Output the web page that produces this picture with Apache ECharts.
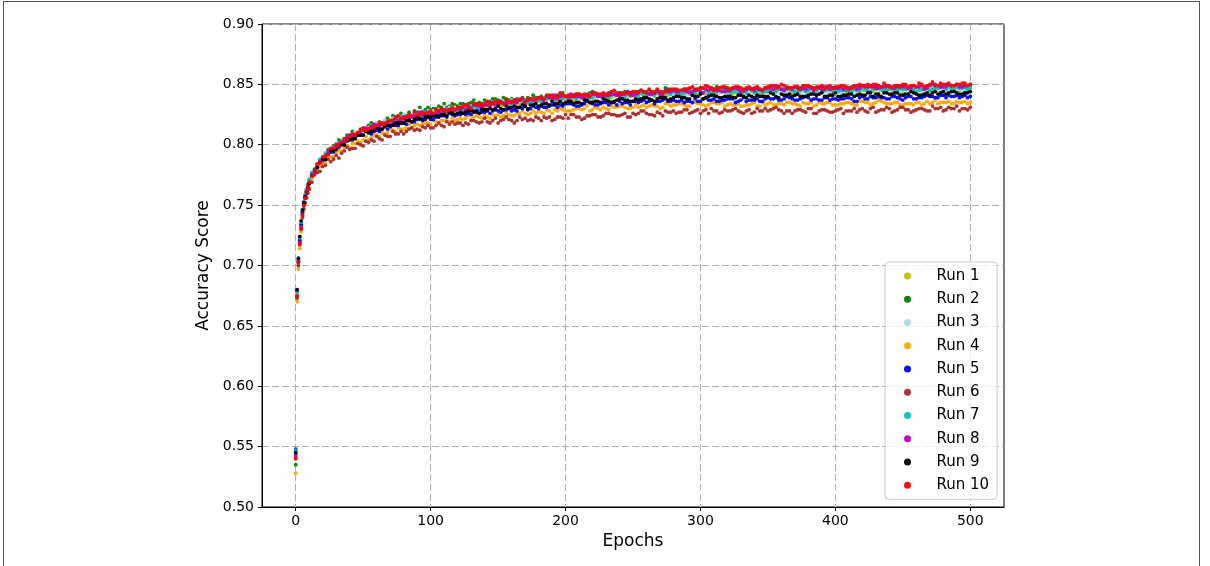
<!DOCTYPE html>
<html><head><meta charset="utf-8">
<script src="https://cdn.jsdelivr.net/npm/echarts@6/dist/echarts.min.js"></script>
<style>
html,body{margin:0;padding:0;background:#fff;width:1210px;height:566px;overflow:hidden}
#frame{position:absolute;left:3px;top:1px;width:1197px;height:620px;border:1.5px solid #555;box-sizing:border-box}
#chart{position:absolute;left:0;top:0;width:1210px;height:566px}
</style></head><body>
<div id="frame"></div><div id="chart"></div>
<script>
// epochs; the last block (202..498) fills the gaps of the 204..500 block
const epochs = [0,1,2,3,4,5,6,7,8,9,10,
12,14,16,18,20,22,24,26,28,30,32,34,36,38,40,42,44,46,48,50,52,54,56,58,60,62,64,66,68,70,72,74,76,78,80,82,84,86,88,90,92,94,96,98,100,
102,104,106,108,110,112,114,116,118,120,122,124,126,128,130,132,134,136,138,140,142,144,146,148,150,152,154,156,158,160,162,164,166,168,170,172,174,176,178,180,182,184,186,188,190,192,194,196,198,200,
204,208,212,216,220,224,228,232,236,240,244,248,252,256,260,264,268,272,276,280,284,288,292,296,300,304,308,312,316,320,324,328,332,336,340,344,348,352,356,360,364,368,372,376,380,384,388,392,396,400,404,408,412,416,420,424,428,432,436,440,444,448,452,456,460,464,468,472,476,480,484,488,492,496,500,
202,206,210,214,218,222,226,230,234,238,242,246,250,254,258,262,266,270,274,278,282,286,290,294,298,302,306,310,314,318,322,326,330,334,338,342,346,350,354,358,362,366,370,374,378,382,386,390,394,398,402,406,410,414,418,422,426,430,434,438,442,446,450,454,458,462,466,470,474,478,482,486,490,494,498];

const run1 = [0.544,0.677,0.703,0.720,0.733,0.743,0.751,0.757,0.761,0.765,0.769,
0.775,0.780,0.782,0.787,0.788,0.789,0.793,0.797,0.795,0.798,0.800,0.801,0.801,0.805,0.804,0.806,0.809,0.808,0.808,0.812,0.812,0.811,0.814,0.814,0.817,0.814,0.816,0.817,0.818,0.817,0.819,0.820,0.819,0.822,0.821,0.821,0.821,0.823,0.823,0.822,0.825,0.824,0.826,0.824,0.825,
0.825,0.827,0.825,0.826,0.829,0.827,0.826,0.829,0.827,0.828,0.829,0.829,0.828,0.830,0.829,0.828,0.831,0.830,0.831,0.830,0.832,0.833,0.833,0.832,0.835,0.832,0.833,0.835,0.833,0.834,0.835,0.834,0.834,0.836,0.835,0.834,0.837,0.836,0.835,0.836,0.837,0.835,0.837,0.838,0.838,0.836,0.837,0.836,0.839,0.838,
0.837,0.838,0.839,0.839,0.838,0.840,0.839,0.838,0.840,0.842,0.841,0.840,0.839,0.842,0.840,0.841,0.843,0.841,0.841,0.843,0.842,0.841,0.842,0.845,0.844,0.842,0.843,0.842,0.844,0.843,0.842,0.845,0.843,0.844,0.843,0.842,0.844,0.843,0.844,0.845,0.844,0.843,0.845,0.844,0.842,0.845,0.844,0.845,0.843,0.844,0.845,0.844,0.843,0.846,0.845,0.846,0.844,0.845,0.845,0.846,0.844,0.845,0.847,0.844,0.846,0.845,0.844,0.846,0.847,0.845,0.847,0.846,0.845,0.846,0.847,
0.838,0.836,0.839,0.838,0.839,0.838,0.840,0.839,0.839,0.841,0.839,0.840,0.841,0.839,0.841,0.842,0.840,0.840,0.842,0.843,0.842,0.841,0.843,0.843,0.841,0.843,0.844,0.842,0.843,0.844,0.841,0.844,0.842,0.843,0.844,0.843,0.842,0.845,0.843,0.844,0.844,0.843,0.846,0.844,0.845,0.843,0.843,0.844,0.845,0.844,0.845,0.842,0.844,0.845,0.844,0.845,0.844,0.846,0.845,0.844,0.845,0.846,0.843,0.845,0.844,0.846,0.845,0.845,0.847,0.846,0.846,0.845,0.846,0.847,0.845];

const run2 = [0.535,0.674,0.702,0.719,0.734,0.744,0.752,0.758,0.763,0.767,0.771,
0.776,0.778,0.783,0.787,0.788,0.791,0.796,0.795,0.799,0.801,0.804,0.803,0.805,0.808,0.807,0.811,0.810,0.810,0.813,0.813,0.813,0.816,0.818,0.816,0.818,0.819,0.818,0.820,0.822,0.820,0.824,0.823,0.823,0.826,0.825,0.824,0.827,0.824,0.828,0.827,0.831,0.828,0.829,0.831,0.829,
0.830,0.830,0.832,0.831,0.834,0.831,0.832,0.834,0.833,0.832,0.834,0.834,0.833,0.834,0.835,0.837,0.834,0.835,0.834,0.837,0.835,0.836,0.838,0.838,0.837,0.836,0.839,0.838,0.837,0.838,0.837,0.838,0.837,0.838,0.837,0.839,0.838,0.841,0.839,0.838,0.840,0.838,0.840,0.841,0.840,0.839,0.841,0.841,0.843,0.840,
0.841,0.842,0.840,0.842,0.844,0.841,0.842,0.843,0.842,0.843,0.844,0.843,0.842,0.845,0.844,0.842,0.845,0.844,0.846,0.844,0.845,0.846,0.845,0.845,0.847,0.846,0.845,0.848,0.846,0.845,0.846,0.844,0.845,0.845,0.846,0.844,0.847,0.846,0.845,0.846,0.845,0.847,0.846,0.848,0.845,0.846,0.847,0.845,0.846,0.847,0.846,0.845,0.848,0.846,0.846,0.848,0.847,0.846,0.848,0.847,0.848,0.847,0.846,0.848,0.847,0.845,0.848,0.848,0.849,0.847,0.848,0.849,0.848,0.847,0.849,
0.840,0.841,0.842,0.841,0.843,0.842,0.840,0.842,0.844,0.842,0.843,0.844,0.842,0.844,0.843,0.845,0.844,0.843,0.847,0.845,0.844,0.845,0.846,0.846,0.844,0.847,0.845,0.846,0.847,0.846,0.846,0.844,0.845,0.844,0.846,0.845,0.845,0.844,0.847,0.845,0.846,0.847,0.845,0.847,0.846,0.845,0.845,0.847,0.846,0.844,0.847,0.846,0.845,0.846,0.848,0.846,0.849,0.847,0.846,0.847,0.846,0.848,0.847,0.845,0.847,0.848,0.846,0.848,0.849,0.847,0.848,0.847,0.849,0.848,0.847];

const run3 = [0.546,0.678,0.704,0.722,0.735,0.745,0.752,0.758,0.762,0.766,0.770,
0.774,0.780,0.783,0.786,0.790,0.790,0.795,0.796,0.796,0.801,0.800,0.801,0.804,0.805,0.807,0.807,0.811,0.810,0.810,0.813,0.813,0.814,0.813,0.815,0.818,0.815,0.818,0.820,0.819,0.819,0.822,0.821,0.821,0.823,0.825,0.823,0.823,0.824,0.826,0.824,0.826,0.828,0.826,0.826,0.828,
0.828,0.827,0.829,0.828,0.828,0.829,0.831,0.830,0.831,0.829,0.829,0.831,0.832,0.831,0.832,0.830,0.832,0.833,0.831,0.833,0.833,0.832,0.835,0.833,0.834,0.834,0.835,0.834,0.835,0.837,0.836,0.834,0.836,0.837,0.836,0.835,0.838,0.837,0.836,0.838,0.836,0.837,0.840,0.838,0.837,0.839,0.838,0.840,0.838,0.839,
0.839,0.841,0.838,0.841,0.840,0.841,0.839,0.840,0.842,0.840,0.842,0.841,0.840,0.844,0.842,0.841,0.843,0.843,0.843,0.842,0.843,0.844,0.842,0.844,0.846,0.844,0.843,0.845,0.844,0.843,0.846,0.843,0.845,0.844,0.843,0.844,0.845,0.844,0.846,0.845,0.844,0.845,0.842,0.844,0.843,0.845,0.845,0.844,0.843,0.844,0.843,0.846,0.844,0.843,0.846,0.845,0.846,0.844,0.845,0.846,0.845,0.844,0.847,0.845,0.846,0.844,0.845,0.847,0.845,0.846,0.846,0.847,0.846,0.845,0.847,
0.839,0.840,0.838,0.840,0.841,0.838,0.840,0.841,0.840,0.841,0.842,0.840,0.841,0.841,0.844,0.842,0.841,0.843,0.843,0.842,0.844,0.843,0.841,0.845,0.844,0.843,0.845,0.844,0.843,0.844,0.844,0.845,0.844,0.842,0.845,0.843,0.844,0.845,0.846,0.844,0.843,0.844,0.845,0.843,0.844,0.845,0.842,0.844,0.843,0.845,0.844,0.843,0.845,0.844,0.844,0.846,0.845,0.843,0.846,0.845,0.846,0.844,0.845,0.844,0.847,0.845,0.844,0.847,0.846,0.845,0.845,0.847,0.846,0.845,0.846];

const run4 = [0.528,0.670,0.697,0.714,0.728,0.739,0.746,0.752,0.757,0.760,0.764,
0.772,0.777,0.779,0.782,0.785,0.785,0.791,0.790,0.790,0.793,0.795,0.795,0.798,0.799,0.798,0.801,0.801,0.803,0.802,0.804,0.807,0.804,0.806,0.808,0.808,0.807,0.810,0.809,0.810,0.813,0.812,0.811,0.814,0.813,0.813,0.814,0.817,0.814,0.816,0.817,0.816,0.817,0.818,0.818,0.817,
0.820,0.819,0.818,0.820,0.820,0.820,0.819,0.822,0.820,0.821,0.822,0.821,0.822,0.824,0.821,0.823,0.824,0.823,0.822,0.825,0.823,0.822,0.825,0.824,0.825,0.823,0.824,0.827,0.825,0.824,0.824,0.826,0.826,0.828,0.826,0.825,0.826,0.828,0.826,0.828,0.827,0.826,0.829,0.828,0.826,0.829,0.828,0.830,0.829,0.828,
0.828,0.830,0.829,0.832,0.829,0.830,0.831,0.829,0.831,0.832,0.831,0.830,0.833,0.832,0.831,0.833,0.832,0.831,0.834,0.833,0.834,0.833,0.832,0.835,0.834,0.832,0.835,0.834,0.835,0.833,0.833,0.834,0.832,0.833,0.835,0.832,0.833,0.835,0.833,0.834,0.835,0.834,0.833,0.835,0.834,0.832,0.835,0.834,0.835,0.833,0.834,0.835,0.834,0.833,0.836,0.835,0.834,0.837,0.835,0.834,0.835,0.833,0.834,0.834,0.835,0.833,0.836,0.835,0.834,0.835,0.836,0.834,0.835,0.836,0.835,
0.828,0.829,0.830,0.830,0.828,0.831,0.829,0.830,0.832,0.831,0.832,0.830,0.831,0.831,0.833,0.832,0.832,0.830,0.834,0.832,0.833,0.834,0.832,0.835,0.834,0.833,0.833,0.835,0.834,0.832,0.834,0.833,0.832,0.833,0.834,0.832,0.835,0.834,0.833,0.834,0.833,0.835,0.834,0.832,0.834,0.835,0.833,0.834,0.835,0.833,0.833,0.834,0.835,0.833,0.836,0.835,0.833,0.835,0.836,0.834,0.834,0.835,0.833,0.834,0.833,0.835,0.834,0.834,0.837,0.835,0.835,0.834,0.836,0.835,0.834];

const run5 = [0.548,0.679,0.704,0.721,0.734,0.744,0.751,0.756,0.761,0.764,0.768,
0.775,0.777,0.782,0.786,0.787,0.788,0.793,0.794,0.794,0.798,0.798,0.802,0.800,0.803,0.805,0.804,0.806,0.808,0.808,0.808,0.811,0.810,0.809,0.813,0.812,0.811,0.813,0.815,0.813,0.815,0.817,0.816,0.816,0.818,0.818,0.817,0.821,0.819,0.819,0.821,0.821,0.820,0.821,0.823,0.821,
0.821,0.823,0.824,0.824,0.824,0.823,0.826,0.825,0.824,0.825,0.825,0.827,0.825,0.826,0.825,0.828,0.827,0.829,0.827,0.827,0.828,0.826,0.828,0.829,0.828,0.827,0.829,0.829,0.831,0.828,0.829,0.828,0.831,0.830,0.832,0.829,0.830,0.832,0.831,0.830,0.832,0.831,0.831,0.832,0.833,0.834,0.831,0.833,0.832,0.834,
0.834,0.832,0.833,0.836,0.834,0.833,0.835,0.833,0.835,0.836,0.835,0.833,0.836,0.836,0.835,0.837,0.836,0.837,0.836,0.837,0.836,0.835,0.836,0.838,0.836,0.839,0.837,0.836,0.837,0.838,0.838,0.836,0.839,0.837,0.837,0.836,0.838,0.838,0.839,0.837,0.840,0.838,0.837,0.839,0.839,0.838,0.837,0.839,0.837,0.838,0.838,0.839,0.838,0.836,0.840,0.838,0.839,0.840,0.839,0.838,0.840,0.838,0.839,0.840,0.838,0.839,0.841,0.840,0.839,0.841,0.841,0.840,0.839,0.841,0.840,
0.834,0.833,0.832,0.834,0.835,0.833,0.834,0.835,0.835,0.833,0.834,0.835,0.836,0.835,0.837,0.836,0.834,0.836,0.838,0.836,0.836,0.837,0.836,0.835,0.836,0.838,0.837,0.838,0.836,0.837,0.838,0.835,0.837,0.836,0.837,0.838,0.836,0.839,0.838,0.837,0.838,0.839,0.837,0.838,0.840,0.837,0.838,0.837,0.839,0.838,0.837,0.838,0.839,0.836,0.839,0.838,0.840,0.839,0.839,0.838,0.840,0.839,0.837,0.840,0.838,0.839,0.840,0.840,0.839,0.841,0.839,0.840,0.841,0.840,0.839];

const run6 = [0.541,0.673,0.700,0.717,0.730,0.740,0.747,0.752,0.756,0.760,0.763,
0.769,0.775,0.777,0.778,0.782,0.783,0.788,0.786,0.788,0.791,0.789,0.793,0.795,0.798,0.796,0.797,0.797,0.801,0.800,0.799,0.803,0.802,0.804,0.803,0.807,0.805,0.804,0.808,0.807,0.807,0.811,0.809,0.809,0.811,0.809,0.811,0.813,0.814,0.812,0.813,0.812,0.815,0.814,0.816,0.814,
0.814,0.816,0.818,0.816,0.815,0.819,0.817,0.819,0.817,0.818,0.818,0.816,0.818,0.817,0.820,0.820,0.819,0.818,0.819,0.822,0.819,0.818,0.820,0.822,0.818,0.820,0.821,0.823,0.821,0.820,0.818,0.820,0.823,0.821,0.822,0.820,0.821,0.820,0.823,0.822,0.820,0.823,0.822,0.823,0.820,0.821,0.823,0.823,0.822,0.825,
0.825,0.823,0.821,0.824,0.825,0.823,0.824,0.826,0.825,0.824,0.826,0.823,0.825,0.828,0.826,0.825,0.827,0.824,0.827,0.828,0.827,0.829,0.826,0.828,0.826,0.829,0.830,0.828,0.827,0.828,0.829,0.828,0.826,0.829,0.827,0.828,0.830,0.829,0.831,0.828,0.828,0.826,0.829,0.828,0.830,0.826,0.828,0.829,0.827,0.828,0.830,0.828,0.828,0.827,0.830,0.827,0.831,0.828,0.829,0.830,0.828,0.831,0.829,0.827,0.829,0.830,0.828,0.832,0.830,0.828,0.831,0.830,0.828,0.830,0.831,
0.822,0.825,0.823,0.822,0.824,0.825,0.823,0.826,0.825,0.824,0.825,0.823,0.826,0.826,0.828,0.825,0.824,0.826,0.828,0.827,0.826,0.827,0.829,0.827,0.829,0.828,0.826,0.828,0.826,0.829,0.828,0.830,0.827,0.828,0.826,0.830,0.828,0.828,0.830,0.829,0.826,0.828,0.828,0.829,0.827,0.830,0.826,0.829,0.828,0.827,0.829,0.826,0.828,0.830,0.829,0.828,0.830,0.827,0.829,0.831,0.827,0.829,0.831,0.829,0.828,0.830,0.829,0.828,0.830,0.831,0.829,0.830,0.832,0.830,0.829];

const run7 = [0.547,0.678,0.705,0.723,0.736,0.746,0.753,0.759,0.763,0.767,0.771,
0.777,0.780,0.783,0.788,0.789,0.793,0.793,0.796,0.798,0.798,0.800,0.803,0.803,0.804,0.808,0.807,0.809,0.808,0.810,0.813,0.812,0.813,0.816,0.815,0.815,0.817,0.817,0.817,0.819,0.819,0.821,0.819,0.821,0.823,0.821,0.822,0.824,0.823,0.823,0.825,0.825,0.824,0.827,0.826,0.825,
0.825,0.827,0.828,0.827,0.827,0.830,0.828,0.830,0.828,0.829,0.830,0.829,0.830,0.829,0.832,0.832,0.831,0.830,0.831,0.833,0.833,0.832,0.834,0.836,0.833,0.834,0.835,0.836,0.835,0.834,0.834,0.835,0.838,0.836,0.837,0.835,0.836,0.836,0.838,0.837,0.836,0.839,0.838,0.839,0.838,0.837,0.839,0.839,0.838,0.840,
0.839,0.838,0.840,0.840,0.839,0.842,0.840,0.839,0.842,0.841,0.840,0.842,0.841,0.843,0.840,0.842,0.843,0.841,0.843,0.844,0.842,0.843,0.845,0.843,0.844,0.845,0.843,0.844,0.845,0.844,0.844,0.843,0.844,0.846,0.843,0.845,0.844,0.845,0.844,0.846,0.846,0.845,0.844,0.846,0.845,0.844,0.847,0.845,0.846,0.844,0.845,0.846,0.844,0.845,0.847,0.845,0.846,0.848,0.845,0.846,0.845,0.847,0.846,0.847,0.844,0.846,0.847,0.846,0.847,0.848,0.848,0.846,0.847,0.848,0.847,
0.837,0.839,0.840,0.840,0.839,0.841,0.840,0.839,0.841,0.842,0.840,0.842,0.841,0.840,0.842,0.843,0.841,0.843,0.843,0.842,0.843,0.842,0.844,0.844,0.845,0.843,0.842,0.844,0.845,0.844,0.843,0.844,0.845,0.843,0.845,0.844,0.843,0.845,0.843,0.846,0.845,0.846,0.844,0.845,0.844,0.847,0.845,0.844,0.846,0.845,0.844,0.845,0.845,0.846,0.845,0.846,0.844,0.847,0.846,0.845,0.847,0.845,0.846,0.847,0.846,0.845,0.847,0.845,0.847,0.848,0.846,0.847,0.848,0.847,0.846];

const run8 = [0.543,0.680,0.703,0.719,0.732,0.742,0.750,0.756,0.760,0.764,0.768,
0.775,0.778,0.784,0.786,0.787,0.791,0.795,0.796,0.796,0.799,0.801,0.801,0.803,0.806,0.808,0.806,0.808,0.810,0.809,0.812,0.814,0.813,0.813,0.817,0.816,0.815,0.818,0.818,0.817,0.820,0.820,0.822,0.820,0.821,0.823,0.821,0.823,0.824,0.824,0.823,0.827,0.825,0.824,0.827,0.826,
0.826,0.826,0.827,0.829,0.827,0.828,0.829,0.828,0.829,0.830,0.830,0.832,0.829,0.831,0.830,0.833,0.833,0.832,0.831,0.834,0.833,0.832,0.835,0.833,0.834,0.836,0.834,0.834,0.836,0.835,0.835,0.837,0.837,0.838,0.835,0.837,0.838,0.837,0.838,0.839,0.838,0.837,0.840,0.839,0.838,0.841,0.838,0.840,0.841,0.840,
0.842,0.840,0.839,0.841,0.842,0.840,0.841,0.842,0.842,0.841,0.843,0.841,0.842,0.845,0.843,0.842,0.844,0.842,0.844,0.845,0.844,0.845,0.843,0.845,0.844,0.846,0.847,0.845,0.844,0.845,0.847,0.846,0.845,0.847,0.845,0.846,0.847,0.847,0.849,0.846,0.847,0.846,0.848,0.847,0.848,0.845,0.847,0.848,0.846,0.847,0.848,0.847,0.847,0.846,0.849,0.848,0.850,0.847,0.848,0.849,0.847,0.849,0.848,0.847,0.848,0.849,0.847,0.851,0.849,0.848,0.850,0.849,0.848,0.849,0.850,
0.839,0.841,0.840,0.839,0.841,0.842,0.840,0.842,0.842,0.841,0.842,0.844,0.841,0.843,0.844,0.842,0.843,0.842,0.845,0.844,0.844,0.845,0.844,0.844,0.846,0.843,0.845,0.846,0.845,0.844,0.845,0.847,0.844,0.846,0.846,0.847,0.845,0.847,0.846,0.848,0.845,0.847,0.848,0.846,0.846,0.847,0.848,0.846,0.848,0.847,0.847,0.846,0.847,0.849,0.847,0.849,0.848,0.847,0.848,0.849,0.847,0.849,0.848,0.847,0.849,0.848,0.846,0.849,0.850,0.848,0.848,0.849,0.850,0.848,0.849];

const run9 = [0.545,0.680,0.706,0.724,0.737,0.746,0.752,0.757,0.761,0.765,0.768,
0.774,0.779,0.781,0.785,0.788,0.788,0.792,0.795,0.795,0.796,0.799,0.800,0.800,0.804,0.804,0.805,0.805,0.808,0.808,0.808,0.811,0.810,0.811,0.811,0.814,0.813,0.813,0.815,0.816,0.816,0.816,0.818,0.818,0.818,0.818,0.820,0.820,0.819,0.821,0.822,0.822,0.821,0.823,0.823,0.823,
0.824,0.824,0.823,0.825,0.825,0.824,0.827,0.826,0.825,0.826,0.827,0.826,0.827,0.828,0.828,0.827,0.828,0.826,0.829,0.829,0.829,0.830,0.829,0.830,0.832,0.830,0.829,0.832,0.830,0.831,0.832,0.831,0.831,0.833,0.832,0.830,0.833,0.833,0.834,0.832,0.833,0.834,0.834,0.833,0.836,0.833,0.834,0.836,0.834,0.835,
0.836,0.835,0.834,0.837,0.835,0.836,0.838,0.836,0.836,0.838,0.837,0.836,0.838,0.838,0.839,0.837,0.838,0.839,0.837,0.839,0.840,0.839,0.838,0.840,0.842,0.839,0.841,0.840,0.839,0.840,0.839,0.841,0.840,0.841,0.839,0.840,0.840,0.843,0.840,0.842,0.841,0.840,0.842,0.840,0.841,0.842,0.842,0.840,0.841,0.843,0.840,0.841,0.842,0.841,0.841,0.843,0.840,0.842,0.843,0.842,0.843,0.841,0.842,0.844,0.842,0.841,0.843,0.843,0.842,0.844,0.843,0.844,0.842,0.843,0.844,
0.836,0.834,0.835,0.837,0.835,0.836,0.835,0.837,0.835,0.837,0.838,0.837,0.836,0.837,0.839,0.838,0.836,0.839,0.839,0.838,0.840,0.839,0.838,0.841,0.840,0.838,0.840,0.841,0.839,0.840,0.840,0.839,0.841,0.839,0.840,0.841,0.840,0.840,0.842,0.839,0.841,0.842,0.841,0.840,0.840,0.842,0.841,0.843,0.840,0.841,0.840,0.841,0.842,0.840,0.842,0.841,0.843,0.842,0.840,0.843,0.842,0.843,0.841,0.842,0.843,0.841,0.842,0.841,0.844,0.843,0.842,0.844,0.843,0.842,0.843];

const run10 = [0.540,0.675,0.703,0.718,0.731,0.742,0.750,0.756,0.761,0.765,0.769,
0.774,0.779,0.784,0.785,0.790,0.790,0.792,0.797,0.797,0.800,0.799,0.802,0.805,0.804,0.807,0.809,0.808,0.810,0.812,0.814,0.812,0.813,0.815,0.814,0.816,0.818,0.817,0.817,0.819,0.820,0.820,0.822,0.824,0.822,0.822,0.823,0.825,0.823,0.827,0.825,0.825,0.827,0.826,0.826,0.828,
0.826,0.829,0.828,0.830,0.829,0.828,0.829,0.831,0.829,0.831,0.831,0.831,0.833,0.832,0.830,0.834,0.833,0.834,0.833,0.833,0.836,0.834,0.834,0.836,0.835,0.835,0.834,0.837,0.835,0.836,0.837,0.835,0.837,0.839,0.836,0.837,0.838,0.838,0.837,0.839,0.839,0.838,0.841,0.840,0.841,0.839,0.840,0.843,0.841,0.840,
0.840,0.842,0.841,0.841,0.843,0.842,0.843,0.841,0.845,0.843,0.842,0.843,0.844,0.845,0.843,0.844,0.846,0.843,0.845,0.846,0.845,0.846,0.847,0.846,0.847,0.849,0.847,0.846,0.848,0.847,0.847,0.848,0.846,0.848,0.847,0.846,0.847,0.849,0.847,0.850,0.848,0.847,0.848,0.849,0.849,0.847,0.848,0.846,0.849,0.848,0.849,0.848,0.847,0.849,0.849,0.850,0.848,0.849,0.851,0.848,0.849,0.848,0.850,0.849,0.848,0.850,0.849,0.852,0.849,0.850,0.851,0.849,0.850,0.851,0.850,
0.841,0.840,0.842,0.842,0.840,0.843,0.842,0.841,0.844,0.843,0.842,0.843,0.844,0.843,0.844,0.846,0.843,0.844,0.844,0.846,0.846,0.845,0.846,0.848,0.846,0.847,0.848,0.845,0.847,0.848,0.846,0.848,0.847,0.847,0.846,0.848,0.845,0.848,0.849,0.848,0.849,0.847,0.848,0.846,0.849,0.848,0.847,0.849,0.848,0.847,0.848,0.849,0.846,0.848,0.850,0.848,0.849,0.850,0.848,0.849,0.848,0.849,0.850,0.848,0.849,0.851,0.848,0.850,0.849,0.851,0.850,0.849,0.850,0.851,0.849];

const runNames = ['Run 1','Run 2','Run 3','Run 4','Run 5','Run 6','Run 7','Run 8','Run 9','Run 10'];
const runColors = ['#bfbf00','#008000','#add8e6','#ffa500','#0000ff','#a52a2a','#00bfbf','#bf00bf','#000000','#ff0000'];
const runValues = [run1,run2,run3,run4,run5,run6,run7,run8,run9,run10];
const xTicks = [0,100,200,300,400,500];
const yTicks = [0.50,0.55,0.60,0.65,0.70,0.75,0.80,0.85,0.90];

const chart = echarts.init(document.getElementById('chart'), null, {renderer:'canvas'});
const FONT = 'DejaVu Sans';
const series = runValues.map((vals, i) => ({
  name: runNames[i],
  type: 'scatter',
  symbol: 'circle',
  symbolSize: 3.8,
  itemStyle: {color: runColors[i], opacity: 0.95},
  emphasis: {disabled: true},
  data: vals.map((v, j) => [epochs[j], v])
}));

chart.setOption({
  animation: false,
  textStyle: {fontFamily: FONT},
  grid: {left: 262, top: 24, right: 206, bottom: 59, show: true, borderColor: '#000', borderWidth: 1, backgroundColor: 'transparent'},
  xAxis: {
    type: 'value', min: -25, max: 525,
    name: 'Epochs', nameLocation: 'middle', nameGap: 26,
    nameTextStyle: {fontSize: 17, color: '#000', fontFamily: FONT},
    axisLine: {show: true, lineStyle: {color: '#000', width: 1}},
    axisTick: {show: true, length: 4, lineStyle: {color: '#000', width: 1}, customValues: xTicks},
    axisLabel: {customValues: xTicks, fontSize: 14, color: '#000', margin: 7, fontFamily: FONT},
    splitLine: {show: true, lineStyle: {type: [7, 3], color: '#b0b0b0', width: 1}}
  },
  yAxis: {
    type: 'value', min: yTicks[0], max: yTicks[yTicks.length - 1], interval: 0.05,
    name: 'Accuracy Score', nameLocation: 'middle', nameGap: 48,
    nameTextStyle: {fontSize: 17, color: '#000', fontFamily: FONT},
    axisLine: {show: true, onZero: false, lineStyle: {color: '#000', width: 1}},
    axisTick: {show: true, length: 4, lineStyle: {color: '#000', width: 1}},
    axisLabel: {fontSize: 14, color: '#000', margin: 8, fontFamily: FONT, formatter: v => v.toFixed(2)},
    splitLine: {show: true, lineStyle: {type: [7, 3], color: '#b0b0b0', width: 1}}
  },
  legend: {
    orient: 'vertical', left: 885, top: 262,
    padding: [5, 8, 5, 19], itemGap: 5.25, itemWidth: 14, itemHeight: 7, icon: 'circle',
    backgroundColor: 'rgba(255,255,255,0.8)', borderColor: '#cccccc', borderWidth: 1, borderRadius: 4,
    textStyle: {fontSize: 15, color: '#000', lineHeight: 18, padding: [0, 0, 0, 17], fontFamily: FONT},
    data: runNames
  },
  series: series
});
</script>
</body></html>
